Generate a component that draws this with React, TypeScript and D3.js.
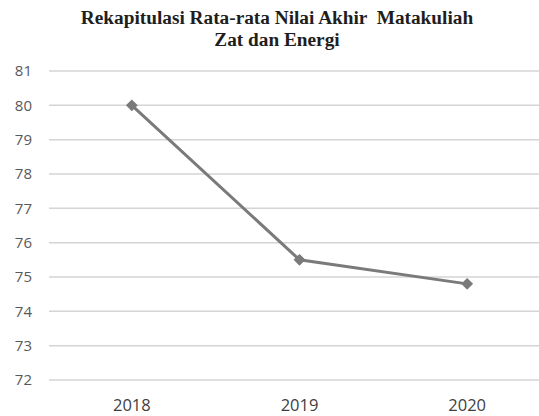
import React from "react";
import * as d3 from "d3";

const years = ["2018", "2019", "2020"];
const nilai = [80, 75.5, 74.8];
const yTicks = [72, 73, 74, 75, 76, 77, 78, 79, 80, 81];
const titleLines = ["Rekapitulasi Rata-rata Nilai Akhir  Matakuliah", "Zat dan Energi"];

const W = 539;
const H = 416;

export default function App() {
  const x = d3.scaleBand<string>().domain(years).range([48, 551]);
  const y = d3.scaleLinear().domain([72, 81]).range([380, 71]);
  const cx = (i: number) => (x(years[i]) as number) + x.bandwidth() / 2;

  const line = d3
    .line<number>()
    .x((_, i) => cx(i))
    .y((d) => y(d));

  // square turned 45deg, so it reads as an even diamond
  const marker = d3.symbol().type(d3.symbolSquare).size(70)();

  return (
    <svg
      width={W}
      height={H}
      style={{ position: "absolute", left: 0, top: 0, background: "#fff" }}
    >
      {titleLines.map((t, i) => (
        <text
          key={i}
          x={277}
          y={24 + i * 22}
          textAnchor="middle"
          style={{ whiteSpace: "pre" }}
          fontFamily="'Liberation Serif', 'Times New Roman', 'DejaVu Serif', serif"
          fontWeight="bold"
          fontSize={19.3}
          fill="#1e1e1e"
        >
          {t}
        </text>
      ))}
      {yTicks.map((t) => (
        <g key={t}>
          <line x1={49} x2={W} y1={y(t)} y2={y(t)} stroke="#d4d4d4" strokeWidth={1.5} />
          <text
            x={32}
            y={y(t)}
            dy="0.35em"
            textAnchor="end"
            fontFamily="'Open Sans', sans-serif"
            fontSize={15}
            fill="#595959"
          >
            {t}
          </text>
        </g>
      ))}
      {years.map((yr, i) => (
        <text
          key={yr}
          x={cx(i)}
          y={411}
          textAnchor="middle"
          fontFamily="'Open Sans', sans-serif"
          fontSize={16.5}
          fill="#404040"
        >
          {yr}
        </text>
      ))}
      <path d={line(nilai) || ""} fill="none" stroke="#7a7a7a" strokeWidth={3} />
      {nilai.map((v, i) => (
        <path
          key={i}
          d={marker || ""}
          transform={`translate(${cx(i)},${y(v)}) rotate(45)`}
          fill="#7a7a7a"
        />
      ))}
    </svg>
  );
}
